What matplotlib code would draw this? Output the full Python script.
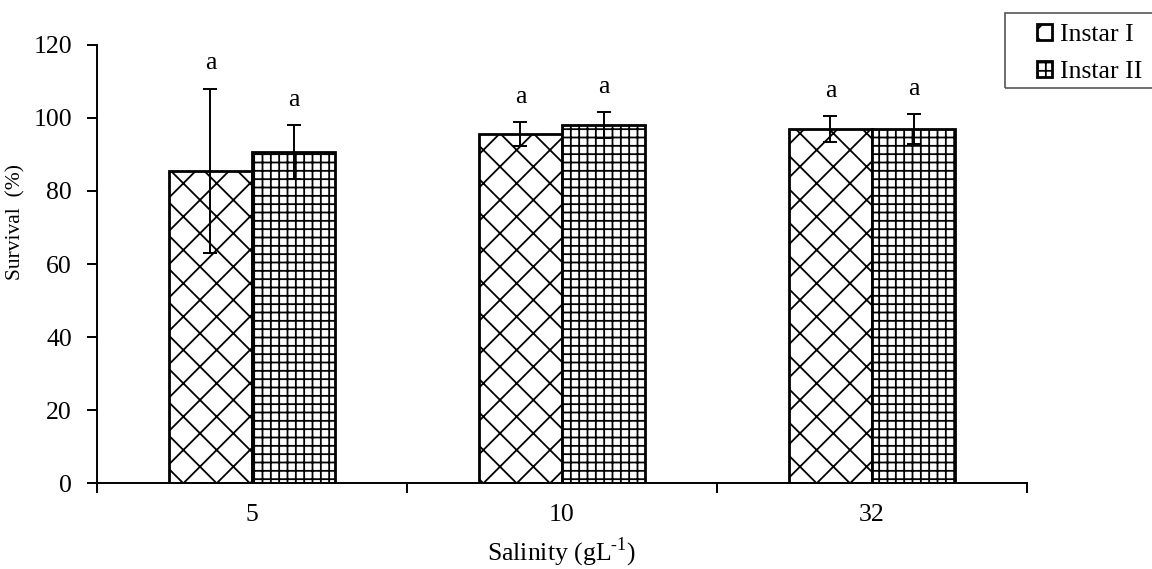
import numpy as np
import matplotlib
matplotlib.use('Agg')
import matplotlib.pyplot as plt
from matplotlib.patches import Rectangle

# 数据
salinity = ['5', '10', '32']
instar1 = [85.5, 95.5, 97.0]
instar1_err = [22.5, 3.3, 3.5]
instar2 = [90.7, 98.0, 97.0]
instar2_err = [7.3, 3.5, 4.0]
letters1 = ['a', 'a', 'a']
letters2 = ['a', 'a', 'a']

plt.rcParams['font.family'] = ['Liberation Serif', 'DejaVu Serif']
plt.rcParams['mathtext.fontset'] = 'custom'
plt.rcParams['mathtext.rm'] = 'Liberation Serif'
plt.rcParams['hatch.linewidth'] = 1.3
plt.rcParams['font.size'] = 18.5

fig = plt.figure(figsize=(11.52, 5.69), dpi=100)
ax = fig.add_axes([0.0842, 0.151, 0.8073, 0.770])

x = np.arange(len(salinity))
w = 0.268
b1 = ax.bar(x - w / 2, instar1, w, color='white', edgecolor='black', linewidth=2,
            hatch='x', label='Instar I')
b2 = ax.bar(x + w / 2, instar2, w, color='white', edgecolor='black', linewidth=2,
            hatch='++', label='Instar II')
ax.errorbar(x - w / 2, instar1, yerr=instar1_err, fmt='none', ecolor='black',
            elinewidth=1.4, capsize=5, capthick=1.4)
ax.errorbar(x + w / 2, instar2, yerr=instar2_err, fmt='none', ecolor='black',
            elinewidth=1.4, capsize=5, capthick=1.4)

# 显著性字母
for i in range(len(x)):
    ax.text(x[i] - w / 2, instar1[i] + instar1_err[i] + 4, letters1[i], ha='center', va='bottom')
    ax.text(x[i] + w / 2, instar2[i] + instar2_err[i] + 4, letters2[i], ha='center', va='bottom')

ax.set_xlim(-0.5, len(x) - 0.5)
ax.set_ylim(0, 120)
ax.set_yticks(np.arange(0, 121, 20))
ax.set_xticks(x)
ax.set_xticklabels(salinity)
ax.set_xticks(np.arange(-0.5, len(x), 1), minor=True)
ax.tick_params(axis='x', which='major', length=0, pad=15)
ax.tick_params(axis='x', which='minor', length=7, width=1.4, direction='out')
ax.tick_params(axis='y', length=7, width=1.4, direction='out', pad=11)
for s in ['top', 'right']:
    ax.spines[s].set_visible(False)
for s in ['left', 'bottom']:
    ax.spines[s].set_linewidth(1.4)

ax.set_ylabel('Survival  (%)', fontsize=15.5)
ax.yaxis.set_label_coords(-0.077, 0.596)
ax.set_xlabel('Salinity (gL$^{\\text{-}1}$)')
ax.xaxis.set_label_coords(0.5, -0.12)

# 图例（边框单独画，右边超出画布）
leg = fig.legend(handles=[b1, b2], loc='upper left', bbox_to_anchor=(1037 / 1152, 0.958),
                 frameon=False, handlelength=0.6, handleheight=0.6, handletextpad=0.3,
                 borderpad=0, borderaxespad=0, labelspacing=0.57, fontsize=18.5)
fig.patches.append(Rectangle((1005 / 1152, 0.845), 0.2, 0.133, transform=fig.transFigure,
                             facecolor='none', edgecolor='#555555', linewidth=1.2))

fig.savefig('out.png', dpi=100)
